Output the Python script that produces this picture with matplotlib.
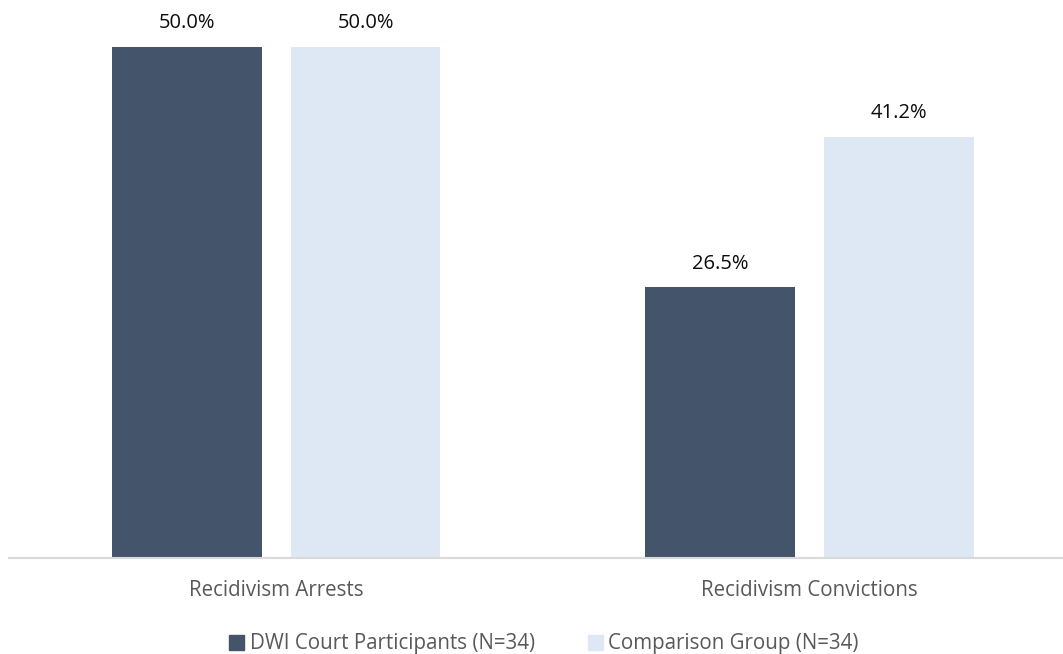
import numpy as np
import matplotlib.pyplot as plt
from matplotlib.patches import Patch

categories = ['Recidivism Arrests', 'Recidivism Convictions']
dwi_court = [50.0, 26.5]
comparison = [50.0, 41.2]
series_names = ['DWI Court Participants (N=34)', 'Comparison Group (N=34)']

dark = '#44546A'
light = '#DEE8F4'

plt.rcParams['font.family'] = ['Open Sans', 'DejaVu Sans']

fig = plt.figure(figsize=(10.63, 6.54), dpi=100)
ax = fig.add_axes([9 / 1063, 96 / 654, 1054 / 1063, 511 / 654])

x = np.arange(len(categories))
w = 0.281
gap = 0.0544
off = (w + gap) / 2

b1 = ax.bar(x - off, dwi_court, w, color=dark)
b2 = ax.bar(x + off, comparison, w, color=light)

# value labels above each bar
for bars, vals in [(b1, dwi_court), (b2, comparison)]:
    for rect, v in zip(bars, vals):
        ax.annotate(f'{v:.1f}%', (rect.get_x() + rect.get_width() / 2, v),
                    xytext=(0, 17), textcoords='offset points',
                    ha='center', va='center', fontsize=14.5, color='#0d0d0d',
                    annotation_clip=False)

ax.set_xlim(-0.5005, 1.475)
ax.set_ylim(0, 50)
ax.set_yticks([])
ax.set_xticks(x)
ax.set_xticklabels(categories, fontsize=14.8, color='#595959')
ax.tick_params(axis='x', length=0, pad=15.5)
for s in ['top', 'right', 'left']:
    ax.spines[s].set_visible(False)
ax.spines['bottom'].set_color('#D9D9D9')
ax.spines['bottom'].set_linewidth(1.5)

handles = [Patch(color=dark), Patch(color=light)]
leg = fig.legend(handles, series_names, loc='center', bbox_to_anchor=(544 / 1063, 1 - 644 / 654),
                 ncol=2, frameon=False, fontsize=14.8, handlelength=0.73, handleheight=0.73,
                 handletextpad=0.25, columnspacing=2.6, borderpad=0.1)
for t in leg.get_texts():
    t.set_color('#595959')

fig.savefig('out.png', dpi=100)
